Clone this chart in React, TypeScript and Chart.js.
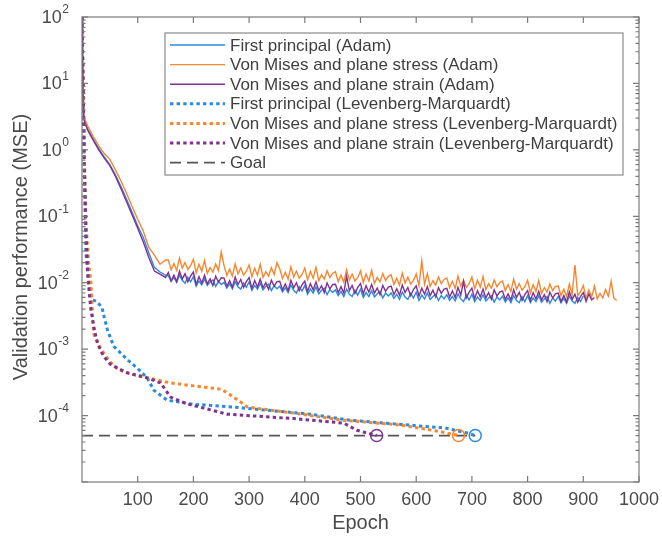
import React, { useEffect, useRef } from "react";
import { Chart, registerables } from "chart.js";
Chart.register(...registerables);

const FONT = '"Liberation Sans", Arial, Helvetica, sans-serif';
const BLUE = "#2b8ae0";
const ORANGE = "#f7862f";
const PURPLE = "#7e3391";
const GOAL = "#555555";

// x tick labels and y decade exponents
const xTickValues = [100, 200, 300, 400, 500, 600, 700, 800, 900, 1000];
const yTickExps = [2, 1, 0, -1, -2, -3, -4];

// Adam epochs (shared sampling grid)
const adamEpochs = [
  0, 1, 2, 3, 5, 10, 20, 30, 40, 50, 60, 70, 80, 90, 100, 110, 120, 130, 140, 150,
  155, 160, 165, 170, 175, 180, 185, 190, 195, 200,
  205, 210, 215, 220, 225, 230, 235, 240, 245, 250,
  255, 260, 265, 270, 275, 280, 285, 290, 295, 300,
  305, 310, 315, 320, 325, 330, 335, 340, 345, 350,
  355, 360, 365, 370, 375, 380, 385, 390, 395, 400,
  405, 410, 415, 420, 425, 430, 435, 440, 445, 450,
  455, 460, 465, 470, 475, 480, 485, 490, 495, 500,
  505, 510, 515, 520, 525, 530, 535, 540, 545, 550,
  555, 560, 565, 570, 575, 580, 585, 590, 595, 600,
  605, 610, 615, 620, 625, 630, 635, 640, 645, 650,
  655, 660, 665, 670, 675, 680, 685, 690, 695, 700,
  705, 710, 715, 720, 725, 730, 735, 740, 745, 750,
  755, 760, 765, 770, 775, 780, 785, 790, 795, 800,
  805, 810, 815, 820, 825, 830, 835, 840, 845, 850,
  855, 860, 865, 870, 875, 880, 885, 890, 895, 900,
  905, 910, 915, 920, 925, 930, 935, 940, 945, 950,
  955, 960,
];

const blueAdam = [
  100, 25, 5, 3.0, 2.65, 2.05, 1.45, 1.05, 0.78, 0.6, 0.42, 0.28, 0.18, 0.115, 0.072, 0.048, 0.028, 0.017, 0.0145, 0.013,
  0.0127, 0.0104, 0.012, 0.0101, 0.013, 0.0109, 0.0098, 0.0121, 0.0103, 0.0124,
  0.0089, 0.0106, 0.0093, 0.0114, 0.0091, 0.0102, 0.011, 0.0088, 0.0105, 0.0094,
  0.0101, 0.0083, 0.0096, 0.0081, 0.0104, 0.0087, 0.008, 0.0099, 0.0085, 0.0103,
  0.0077, 0.0091, 0.008, 0.0098, 0.0078, 0.0088, 0.0095, 0.0076, 0.009, 0.0081,
  0.0089, 0.0073, 0.0084, 0.0071, 0.0092, 0.0077, 0.007, 0.0087, 0.0075, 0.0091,
  0.0067, 0.008, 0.007, 0.0086, 0.0068, 0.0077, 0.0083, 0.0066, 0.0079, 0.0071,
  0.0078, 0.0064, 0.0074, 0.0062, 0.008, 0.0067, 0.0062, 0.0077, 0.0065, 0.008,
  0.006, 0.0071, 0.0062, 0.0076, 0.0061, 0.0068, 0.0074, 0.0059, 0.007, 0.0063,
  0.007, 0.0058, 0.0067, 0.0056, 0.0072, 0.0061, 0.0056, 0.0069, 0.0059, 0.0072,
  0.0054, 0.0065, 0.0057, 0.007, 0.0056, 0.0062, 0.0067, 0.0054, 0.0064, 0.0057,
  0.0066, 0.0054, 0.0062, 0.0053, 0.0068, 0.0057, 0.0052, 0.0065, 0.0055, 0.0067,
  0.0052, 0.0061, 0.0054, 0.0066, 0.0053, 0.0059, 0.0064, 0.0051, 0.0061, 0.0055,
  0.0063, 0.0051, 0.0059, 0.005, 0.0064, 0.0054, 0.005, 0.0062, 0.0052, 0.0064,
  0.005, 0.0059, 0.0052, 0.0064, 0.0051, 0.0057, 0.0062, 0.0049, 0.0059, 0.0053,
  0.0062, 0.005, 0.0058, 0.0049, 0.0063, 0.0053, 0.0049, 0.006, 0.0052, 0.0063,
];

const orangeAdam = [
  100, 30, 6, 3.3, 2.9, 2.3, 1.6, 1.15, 0.88, 0.72, 0.5, 0.34, 0.22, 0.14, 0.09, 0.06, 0.034, 0.026, 0.019, 0.022,
  0.022, 0.0157, 0.0194, 0.0153, 0.0234, 0.0166, 0.0202, 0.0158, 0.018, 0.0225,
  0.0141, 0.0189, 0.0149, 0.0216, 0.0138, 0.0168, 0.0144, 0.0192, 0.0152, 0.029,
  0.0181, 0.0129, 0.016, 0.0126, 0.0192, 0.0136, 0.0166, 0.013, 0.0148, 0.0185,
  0.0123, 0.0165, 0.013, 0.0189, 0.012, 0.0147, 0.0126, 0.0168, 0.0133, 0.02,
  0.0162, 0.0116, 0.0144, 0.0113, 0.0173, 0.0122, 0.0149, 0.0117, 0.0133, 0.0166,
  0.0111, 0.0149, 0.0117, 0.017, 0.0108, 0.0132, 0.0113, 0.0151, 0.012, 0.0139,
  0.0146, 0.0104, 0.013, 0.0102, 0.0156, 0.011, 0.0134, 0.0106, 0.012, 0.015,
  0.01, 0.0135, 0.0106, 0.0154, 0.0098, 0.012, 0.0103, 0.0137, 0.0108, 0.0125,
  0.0132, 0.0094, 0.0117, 0.0092, 0.014, 0.0099, 0.0121, 0.0095, 0.0108, 0.0135,
  0.009, 0.0215, 0.0095, 0.0138, 0.0088, 0.0107, 0.0092, 0.0122, 0.0097, 0.0112,
  0.0118, 0.0084, 0.0105, 0.0082, 0.0126, 0.0089, 0.0109, 0.0085, 0.0097, 0.0121,
  0.0081, 0.0109, 0.0086, 0.0124, 0.0079, 0.0097, 0.0083, 0.011, 0.0087, 0.0101,
  0.0106, 0.0076, 0.0094, 0.0074, 0.0113, 0.008, 0.0097, 0.0077, 0.0087, 0.0109,
  0.007, 0.0094, 0.0074, 0.0108, 0.0069, 0.0084, 0.0072, 0.0096, 0.0076, 0.0088,
  0.0089, 0.0064, 0.008, 0.0062, 0.0095, 0.0067, 0.0185, 0.0064, 0.0073, 0.0091,
  0.0058, 0.0078, 0.0061, 0.0089, 0.0057, 0.0069, 0.0059, 0.0079, 0.0063, 0.0105,
  0.0058, 0.0054,
];

const purpleAdam = [
  100, 25, 5, 3.0, 2.6, 2.0, 1.4, 1.0, 0.75, 0.58, 0.4, 0.26, 0.165, 0.105, 0.066, 0.041, 0.024, 0.015, 0.0135, 0.012,
  0.0143, 0.0107, 0.013, 0.0104, 0.0149, 0.0114, 0.0136, 0.0103, 0.0126, 0.0145,
  0.0094, 0.0123, 0.0099, 0.013, 0.0096, 0.0114, 0.009, 0.0125, 0.0102, 0.0119,
  0.0117, 0.0088, 0.0107, 0.0086, 0.0122, 0.0094, 0.0112, 0.0085, 0.0104, 0.0119,
  0.0082, 0.0108, 0.0086, 0.0113, 0.0084, 0.01, 0.0079, 0.0109, 0.0089, 0.0104,
  0.0105, 0.0078, 0.0096, 0.0076, 0.0109, 0.0084, 0.01, 0.0076, 0.0093, 0.0106,
  0.0074, 0.0097, 0.0078, 0.0103, 0.0076, 0.009, 0.0071, 0.0099, 0.0081, 0.0094,
  0.0095, 0.0071, 0.0087, 0.007, 0.0125, 0.0076, 0.0091, 0.0069, 0.0085, 0.0097,
  0.0068, 0.009, 0.0072, 0.0094, 0.007, 0.0083, 0.0066, 0.0091, 0.0074, 0.0086,
  0.0089, 0.0066, 0.0081, 0.0065, 0.0092, 0.0071, 0.0085, 0.0064, 0.0079, 0.009,
  0.0063, 0.0083, 0.0067, 0.0087, 0.0064, 0.0077, 0.0061, 0.0084, 0.0069, 0.008,
  0.0082, 0.0061, 0.0075, 0.006, 0.0085, 0.0065, 0.0105, 0.0059, 0.0072, 0.0083,
  0.0058, 0.0076, 0.0061, 0.008, 0.0059, 0.0071, 0.0056, 0.0078, 0.0063, 0.0073,
  0.0075, 0.0056, 0.0068, 0.0055, 0.0078, 0.006, 0.0072, 0.0054, 0.0066, 0.0076,
  0.0054, 0.0071, 0.0057, 0.0074, 0.0055, 0.0066, 0.0052, 0.0072, 0.0059, 0.0068,
  0.007, 0.0052, 0.0064, 0.0051, 0.0073, 0.0056, 0.0067, 0.0051, 0.0062, 0.0071,
  0.0052, 0.0068, 0.0055, 0.006,
];

// Levenberg-Marquardt series
const blueLMEpochs = [0, 2, 4, 7, 12, 19, 27, 36, 40, 46, 57, 82, 100, 117, 129, 153, 200, 260, 320, 410, 482, 560, 652, 690, 706];
const blueLM = [100, 8, 0.5, 0.028, 0.01, 0.0055, 0.0052, 0.0042, 0.003, 0.0019, 0.0011, 0.00069, 0.00051, 0.00037, 0.00024, 0.00017, 0.000148, 0.000137, 0.000123, 0.000105, 0.000085, 0.000075, 0.000065, 0.000055, 0.00005];

const orangeLMEpochs = [0, 2, 4, 7, 12, 16, 19, 21, 34, 50, 64, 85, 105, 159, 200, 249, 261, 280, 297, 340, 380, 470, 572, 640, 676];
const orangeLM = [100, 12, 1, 0.08, 0.02, 0.01, 0.003, 0.0017, 0.001, 0.00065, 0.0005, 0.00043, 0.00039, 0.00031, 0.00028, 0.00025, 0.00022, 0.00017, 0.000135, 0.00012, 0.000109, 0.000085, 0.000072, 0.000058, 0.00005];

const purpleLMEpochs = [0, 2, 4, 7, 10, 13, 16, 22, 28, 38, 51, 81, 117, 141, 159, 189, 261, 380, 470, 494, 529];
const purpleLM = [100, 10, 0.8, 0.06, 0.015, 0.007, 0.0039, 0.002, 0.0012, 0.0008, 0.00059, 0.00044, 0.00037, 0.00031, 0.00019, 0.00015, 0.000105, 0.00009, 0.000077, 0.00006, 0.00005];

const goalEpochs = [0, 706];
const goalValues = [0.00005, 0.00005];

function pts(xs: number[], ys: number[]) {
  const n = Math.min(xs.length, ys.length);
  const out: { x: number; y: number }[] = [];
  for (let i = 0; i < n; i++) out.push({ x: xs[i], y: ys[i] });
  return out;
}

const LAYOUT = { left: 82, top: 17, right: 23, bottom: 54 };
const AXIS_COLOR = "#7a7a7a";
const TEXT_COLOR = "#4a4a4a";

const decorPlugin = {
  id: "decor",
  afterDatasetsDraw(chart: any) {
    const { ctx, chartArea } = chart;
    const { left, right, top, bottom } = chartArea;
    const xs = chart.scales.x;
    const ys = chart.scales.y;
    ctx.save();
    // box
    ctx.strokeStyle = AXIS_COLOR;
    ctx.lineWidth = 1.2;
    ctx.setLineDash([]);
    ctx.strokeRect(left, top, right - left, bottom - top);
    // x ticks
    ctx.beginPath();
    for (const v of xTickValues) {
      const px = xs.getPixelForValue(v);
      ctx.moveTo(px, bottom);
      ctx.lineTo(px, bottom - 6);
      ctx.moveTo(px, top);
      ctx.lineTo(px, top + 6);
    }
    // y ticks major/minor
    for (let e = -5; e <= 2; e++) {
      const py = ys.getPixelForValue(Math.pow(10, e));
      ctx.moveTo(left, py);
      ctx.lineTo(left + 6, py);
      ctx.moveTo(right, py);
      ctx.lineTo(right - 6, py);
      if (e < 2) {
        for (let m = 2; m <= 9; m++) {
          const pm = ys.getPixelForValue(m * Math.pow(10, e));
          ctx.moveTo(left, pm);
          ctx.lineTo(left + 3.5, pm);
          ctx.moveTo(right, pm);
          ctx.lineTo(right - 3.5, pm);
        }
      }
    }
    ctx.stroke();

    // x tick labels
    ctx.fillStyle = TEXT_COLOR;
    ctx.font = `18px ${FONT}`;
    ctx.textAlign = "center";
    ctx.textBaseline = "middle";
    for (const v of xTickValues) {
      ctx.fillText(String(v), xs.getPixelForValue(v), bottom + 18);
    }
    // y tick labels
    for (const e of yTickExps) {
      const py = ys.getPixelForValue(Math.pow(10, e));
      const expStr = String(e);
      ctx.font = `12px ${FONT}`;
      const ew = ctx.measureText(expStr).width;
      ctx.textAlign = "right";
      ctx.fillText(expStr, 69, py - 7);
      ctx.font = `18px ${FONT}`;
      ctx.fillText("10", 69 - ew - 0.5, py + 1);
    }
    // titles
    ctx.font = `20px ${FONT}`;
    ctx.textAlign = "center";
    ctx.fillText("Epoch", (left + right) / 2, bottom + 41);
    ctx.save();
    ctx.translate(21, 247);
    ctx.rotate(-Math.PI / 2);
    ctx.fillText("Validation performance (MSE)", 0, 0);
    ctx.restore();

    // legend
    const lx = 165, ly = 33, lw = 458, lh = 142;
    ctx.fillStyle = "#ffffff";
    ctx.fillRect(lx, ly, lw, lh);
    ctx.strokeStyle = "#8a8a8a";
    ctx.lineWidth = 1.2;
    ctx.strokeRect(lx, ly, lw, lh);
    const items = chart.data.datasets;
    items.forEach((ds: any, i: number) => {
      const cy = 45 + i * 19.6;
      ctx.save();
      ctx.strokeStyle = ds.borderColor;
      ctx.lineWidth = ds.borderWidth;
      ctx.setLineDash(ds.borderDash || []);
      ctx.beginPath();
      ctx.moveTo(170, cy);
      ctx.lineTo(225, cy);
      ctx.stroke();
      ctx.restore();
      ctx.fillStyle = "#3f3f3f";
      ctx.font = `17px ${FONT}`;
      ctx.textAlign = "left";
      ctx.textBaseline = "middle";
      ctx.fillText(ds.label, 230, cy + 1);
    });
    ctx.restore();
  },
};

function lmDataset(label: string, xs: number[], ys: number[], color: string, order: number) {
  const n = Math.min(xs.length, ys.length);
  return {
    label,
    data: pts(xs, ys),
    borderColor: color,
    borderWidth: 3,
    borderDash: [3.4, 3.2],
    borderCapStyle: "butt",
    pointRadius: (c: any) => (c.dataIndex === n - 1 ? 6 : 0),
    pointHoverRadius: 0,
    pointBorderWidth: 1.5,
    pointBorderColor: color,
    pointBackgroundColor: "rgba(0,0,0,0)",
    order,
  };
}

function adamDataset(label: string, ys: number[], color: string, order: number) {
  return {
    label,
    data: pts(adamEpochs, ys),
    borderColor: color,
    borderWidth: 1.4,
    pointRadius: 0,
    pointHoverRadius: 0,
    order,
  };
}

export default function App() {
  const ref = useRef<HTMLCanvasElement | null>(null);
  useEffect(() => {
    if (!ref.current) return;
    const chart = new Chart(ref.current, {
      type: "line",
      data: {
        datasets: [
          adamDataset("First principal (Adam)", blueAdam, BLUE, 7),
          adamDataset("Von Mises and plane stress (Adam)", orangeAdam, ORANGE, 6),
          adamDataset("Von Mises and plane strain (Adam)", purpleAdam, PURPLE, 5),
          lmDataset("First principal (Levenberg-Marquardt)", blueLMEpochs, blueLM, BLUE, 4),
          lmDataset("Von Mises and plane stress (Levenberg-Marquardt)", orangeLMEpochs, orangeLM, ORANGE, 3),
          lmDataset("Von Mises and plane strain (Levenberg-Marquardt)", purpleLMEpochs, purpleLM, PURPLE, 2),
          {
            label: "Goal",
            data: pts(goalEpochs, goalValues),
            borderColor: GOAL,
            borderWidth: 1.8,
            borderDash: [11, 6],
            pointRadius: 0,
            pointHoverRadius: 0,
            order: 8,
          },
        ] as any,
      },
      options: {
        animation: false,
        responsive: false,
        devicePixelRatio: 1,
        events: [],
        layout: { padding: LAYOUT },
        plugins: { legend: { display: false }, tooltip: { enabled: false } },
        scales: {
          x: { type: "linear", min: 0, max: 1000, display: false },
          y: { type: "logarithmic", min: 1e-5, max: 100, display: false },
        },
      },
      plugins: [decorPlugin],
    });
    return () => chart.destroy();
  }, []);
  return (
    <div style={{ position: "absolute", left: 0, top: 0, width: 662, height: 536, background: "#fff" }}>
      <canvas ref={ref} width={662} height={536} style={{ display: "block" }} />
    </div>
  );
}
